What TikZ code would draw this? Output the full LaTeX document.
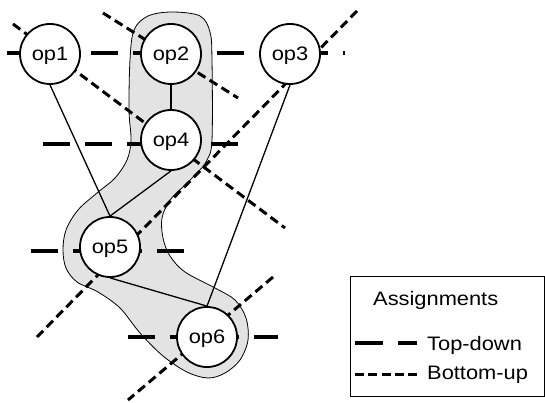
\documentclass[tikz,border=0pt]{standalone}
\usepackage{fontspec}
\setmainfont{Liberation Sans}[FakeStretch=1.12]
\begin{document}
\begin{tikzpicture}[x=1pt,y=-1pt,
  opnode/.style={circle,draw,line width=1.8pt,fill=white,minimum size=60pt,inner sep=0pt,text depth=0pt,font=\fontsize{19.5}{19.5}\selectfont},
  topdown/.style={line width=3.3pt,dash pattern=on 27pt off 15pt},
  bottomup/.style={line width=3pt,dash pattern=on 9pt off 5pt},
  edge/.style={line width=1.3pt},
  region/.style={fill=black!11,draw,line width=0.8pt},
  legtext/.style={anchor=base west,inner sep=0pt,font=\fontsize{19.5}{19.5}\selectfont}]
\useasboundingbox (0,0) rectangle (545,403);
% shaded region
\draw[region] plot[smooth cycle, tension=0.55] coordinates {
 (172,12) (200,16) (210,32) (212,60) (212,140) (207,160) (199,171) (185,185)
 (170,200) (162,218) (163,238) (170,256) (185,272) (215,288) (235,300)
 (246,318) (248,340) (240,360) (225,373) (208,378) (187,372) (163,356)
 (140,333) (120,308) (98,292) (77,282) (66,268) (63,250) (66,230) (78,210)
 (97,193) (115,178) (127,160) (131,140) (129,110) (130,60) (134,30) (148,16)};
% end points of assignment lines
\coordinate (b1s) at (13,24);  \coordinate (b1e) at (285,228);
\coordinate (b2s) at (103,13); \coordinate (b2e) at (238,98);
\coordinate (b3s) at (357,11); \coordinate (b3e) at (37,337);
\coordinate (b4s) at (273,277);\coordinate (b4e) at (128,400);
\coordinate (t1s) at (7,53);   \coordinate (t1e) at (345,53);
\coordinate (t2s) at (43,144); \coordinate (t2e) at (238,144);
\coordinate (t3s) at (31,251); \coordinate (t3e) at (184,251);
\coordinate (t4s) at (128,337);\coordinate (t4e) at (278,337);
\draw[bottomup] (b1s) -- (b1e);
\draw[bottomup] (b2s) -- (b2e);
\draw[bottomup] (b3s) -- (b3e);
\draw[bottomup] (b4s) -- (b4e);
\draw[topdown] (t1s) -- (t1e);
\draw[topdown] (t2s) -- (t2e);
\draw[topdown] (t3s) -- (t3e);
\draw[topdown] (t4s) -- (t4e);
% operation nodes
\node[opnode] (op1) at (50,54) {op1};
\node[opnode] (op2) at (171,54) {op2};
\node[opnode] (op3) at (290,54) {op3};
\node[opnode] (op4) at (171,140) {op4};
\node[opnode] (op5) at (110,247) {op5};
\node[opnode] (op6) at (207,337) {op6};
% edges
\draw[edge] (op1.south) -- (op5.north);
\draw[edge] (op2.south) -- (op4.north);
\draw[edge] (op4.south) -- (op5.north);
\draw[edge] (op3.south) -- (op6.north);
\draw[edge] (op5.south) -- (op6.north);
% legend
\node[draw,line width=1pt,anchor=north west,minimum width=194pt,minimum height=120pt,inner sep=0pt] (legend) at (350,276) {};
\node[legtext] (lgtitle) at (373,305) {Assignments};
\node[legtext] (lgtd) at (427,350) {Top-down};
\node[legtext] (lgbu) at (427,379) {Bottom-up};
\coordinate (ltds) at (355,343); \coordinate (ltde) at (417,343);
\coordinate (lbus) at (355,374); \coordinate (lbue) at (417,374);
\draw[line width=3.3pt,dash pattern=on 28pt off 15pt] (ltds) -- (ltde);
\draw[line width=3pt,dash pattern=on 9pt off 4.3pt] (lbus) -- (lbue);
\end{tikzpicture}
\end{document}
